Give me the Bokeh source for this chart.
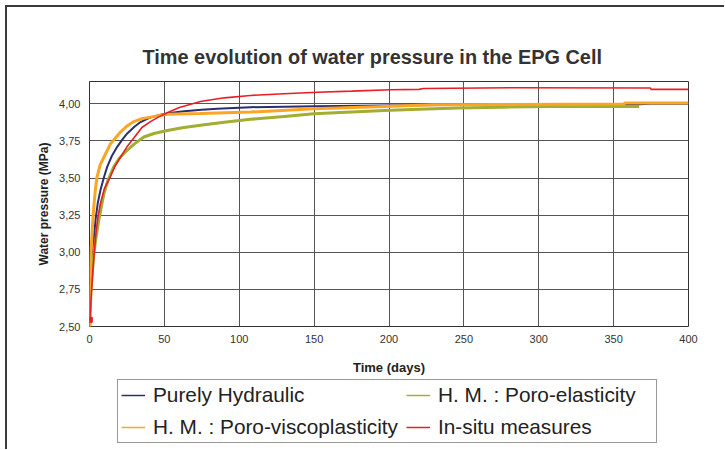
from bokeh.plotting import figure
from bokeh.models import Legend, LegendItem, FixedTicker, Range1d
from bokeh.layouts import column
from bokeh.embed import file_html
from bokeh.resources import INLINE

# ---- data ----
x_ticks = [0, 50, 100, 150, 200, 250, 300, 350, 400]
x_tick_labels = ["0", "50", "100", "150", "200", "250", "300", "350", "400"]
y_ticks = [2.50, 2.75, 3.00, 3.25, 3.50, 3.75, 4.00]
y_tick_labels = ["2,50", "2,75", "3,00", "3,25", "3,50", "3,75", "4,00"]

hyd_t = [0.3, 1, 2, 3, 4, 5.5, 7.3, 9.5, 11.8, 15, 18.5, 22, 25.2, 30, 34.1, 40, 47.4,
         55, 63, 75, 85.3, 107.5, 150, 196.6, 263, 363.5, 374.6, 400]
hyd_p = [2.55, 2.75, 2.95, 3.10, 3.216, 3.33, 3.418, 3.50, 3.575, 3.65, 3.71, 3.76, 3.80,
         3.845, 3.877, 3.905, 3.926, 3.94, 3.95, 3.96, 3.966, 3.977, 3.984, 3.988, 3.993,
         3.995, 4.00, 4.00]

ela_t = [0.2, 1, 2.9, 4.5, 6.2, 8, 9.6, 12.5, 16.2, 20, 25.2, 30, 36.3, 43, 51.9, 62, 74.1,
         90, 107.5, 130, 149.8, 175, 196.6, 220, 245.6, 275, 308, 367]
ela_p = [2.5, 2.75, 2.99, 3.11, 3.216, 3.31, 3.395, 3.49, 3.575, 3.635, 3.687, 3.73, 3.776,
         3.80, 3.82, 3.838, 3.855, 3.875, 3.895, 3.915, 3.933, 3.945, 3.955, 3.963, 3.971,
         3.977, 3.982, 3.982]

vis_t = [0, 0.2, 0.4, 1, 2, 2.9, 4, 5.1, 7, 9.6, 14, 20.7, 25, 29.6, 35, 40.7, 51.9, 74,
         107.5, 149.8, 196.6, 230, 274.5, 357, 357.5, 400]
vis_p = [2.45, 2.5, 2.81, 3.0, 3.18, 3.31, 3.43, 3.51, 3.585, 3.64, 3.73, 3.81, 3.85, 3.88,
         3.90, 3.91, 3.93, 3.935, 3.944, 3.967, 3.982, 3.993, 3.995, 3.999, 4.005, 4.005]

ins_t = [0.2, 1, 1.8, 3, 4, 5.5, 7.3, 10, 14, 17, 20.7, 25, 29.6, 35, 40.7, 46, 51.9, 60,
         74.1, 90, 107.5, 130, 152, 175, 201, 220, 223, 285.6, 374.6, 375, 400]
ins_p = [2.545, 2.68, 2.81, 2.98, 3.10, 3.23, 3.33, 3.43, 3.51, 3.58, 3.64, 3.71, 3.77,
         3.84, 3.88, 3.91, 3.94, 3.975, 4.015, 4.04, 4.056, 4.068, 4.078, 4.085, 4.094,
         4.097, 4.103, 4.108, 4.106, 4.097, 4.097]

names = ["Purely Hydraulic", "H. M. : Poro-elasticity",
         "H. M. : Poro-viscoplasticity", "In-situ measures"]
colors = ["#2B2F6E", "#A3AD32", "#FBA524", "#EC1C24"]
series_t = [hyd_t, ela_t, vis_t, ins_t]
series_p = [hyd_p, ela_p, vis_p, ins_p]

FONT = "Liberation Sans"

# ---- main chart ----
p = figure(width=717, height=370, output_backend="svg", toolbar_location=None,
           x_range=Range1d(0, 400), y_range=Range1d(2.5, 4.15),
           min_border_left=82, min_border_right=36, min_border_top=74,
           min_border_bottom=50)

p.title.text = "Time  evolution of water pressure in the EPG Cell"
p.title.text_font = FONT
p.title.text_font_size = "19.9px"
p.title.text_font_style = "bold"
p.title.text_color = "#333333"
p.title.align = "left"
p.title.offset = 53
p.title.standoff = 27

p.outline_line_color = "#333333"
p.outline_line_width = 1

for ax in (p.xaxis[0], p.yaxis[0]):
    ax.axis_line_color = None
    ax.major_tick_line_color = None
    ax.minor_tick_line_color = None
    ax.major_tick_out = 0
    ax.major_tick_in = 0
    ax.minor_tick_out = 0
    ax.major_label_text_font = FONT
    ax.major_label_text_font_size = "11px"
    ax.major_label_text_color = "#333333"
    ax.axis_label_text_font = FONT
    ax.axis_label_text_font_style = "bold"
    ax.axis_label_text_color = "#222222"

p.xaxis.ticker = FixedTicker(ticks=x_ticks)
p.yaxis.ticker = FixedTicker(ticks=y_ticks)
p.xaxis.major_label_overrides = {v: s for v, s in zip(x_ticks, x_tick_labels)}
p.yaxis.major_label_overrides = {v: s for v, s in zip(y_ticks, y_tick_labels)}
p.xaxis.major_label_standoff = 8
p.yaxis.major_label_standoff = 9
p.xaxis.axis_label = "Time (days)"
p.xaxis.axis_label_text_font_size = "13px"
p.xaxis.axis_label_standoff = 14
p.yaxis.axis_label = "Water pressure (MPa)"
p.yaxis.axis_label_text_font_size = "12px"
p.yaxis.axis_label_standoff = 5

p.xgrid.grid_line_color = "#555555"
p.ygrid.grid_line_color = "#555555"
p.xgrid.grid_line_width = 1
p.ygrid.grid_line_width = 1

widths = [2, 3, 3, 1.6]
for t, v, c, w in zip(series_t, series_p, colors, widths):
    p.line(t, v, line_color=c, line_width=w)
p.scatter(ins_t[:1], ins_p[:1], marker="square", size=5, color=colors[3])

# ---- legend strip (separate canvas so it is not clipped) ----
q = figure(width=717, height=72, output_backend="svg", toolbar_location=None,
           x_range=Range1d(0, 400), y_range=Range1d(0, 1),
           x_axis_location=None, y_axis_location=None,
           min_border=0, min_border_left=82, min_border_right=36,
           min_border_top=0, min_border_bottom=0)
q.grid.visible = False
q.outline_line_color = None

# same series, out of this strip's view; they only supply the legend glyphs
legend_renderers = [q.line(t, v, line_color=c, line_width=1.5)
                    for t, v, c in zip(series_t, series_p, colors)]
# legend fills column by column: order so rows read hyd | ela, vis | ins
order = [0, 2, 1, 3]
items = [LegendItem(label=names[i], renderers=[legend_renderers[i]]) for i in order]
legend = Legend(items=items, ncols=2, location=(28, 6),
                label_text_font=FONT, label_text_font_size="20.8px",
                label_text_color="#222222",
                glyph_width=24, glyph_height=24, label_height=24,
                label_standoff=8, label_width=215, spacing=8, padding=3,
                margin=0,
                border_line_color="#333333", border_line_width=1,
                background_fill_color="white", background_fill_alpha=1)
q.add_layout(legend, "center")

layout = column(p, q, spacing=0)
layout.styles = {"border-top": "2px solid #3a3a3a", "border-left": "2px solid #3a3a3a",
                 "margin-top": "5px", "margin-left": "5px"}

open("out.html", "w").write(file_html(layout, INLINE))
